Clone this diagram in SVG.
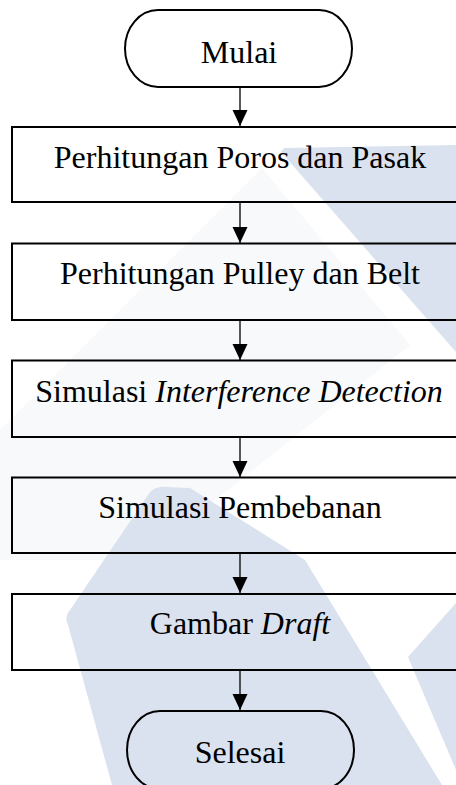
<svg xmlns="http://www.w3.org/2000/svg" width="456" height="785" viewBox="0 0 456 785">
  <style>
    .shape { fill: none; stroke: #000; stroke-width: 2; }
    .lbl { font-family: "Liberation Serif", "Times New Roman", serif; font-size: 32px; fill: #000; text-anchor: middle; }
    .it { font-style: italic; }
    .conn { stroke: #000; stroke-width: 1.3; fill: none; }
    .wm { fill: #dbe2ef; }
    .wmf { fill: #f8f9fb; }
  </style>
  <defs>
    <marker id="arrow" markerUnits="userSpaceOnUse" markerWidth="16" markerHeight="16" viewBox="0 0 16 16" refX="16" refY="8" orient="auto">
      <path d="M0,0.5 L16,8 L0,15.5 Z" fill="#000"/>
    </marker>
  </defs>
  <rect x="0" y="0" width="456" height="785" fill="#fff"/>
  <g id="watermark">
    <polygon class="wmf" points="262,168 410,345 140,560 0,560 0,430"/>
    <polygon class="wm" points="284,148 456,145 456,352 281,152"/>
    <path class="wm" d="M150,492 Q156,486 168,487 L190,488 L305,560 L442,785 L112,785 L68,625 Q64,617 70,610 Z"/>
    <polygon class="wm" points="408,657 456,603 456,770"/>
  </g>
  <g id="connectors">
    <line class="conn" x1="240" y1="87" x2="240" y2="126" marker-end="url(#arrow)"/>
    <line class="conn" x1="240" y1="202" x2="240" y2="243" marker-end="url(#arrow)"/>
    <line class="conn" x1="240" y1="320" x2="240" y2="360" marker-end="url(#arrow)"/>
    <line class="conn" x1="240" y1="437" x2="240" y2="477" marker-end="url(#arrow)"/>
    <line class="conn" x1="240" y1="553" x2="240" y2="593" marker-end="url(#arrow)"/>
    <line class="conn" x1="240" y1="670" x2="240" y2="710" marker-end="url(#arrow)"/>
  </g>
  <g id="mulai">
    <rect class="shape" x="125" y="10" width="227" height="77" rx="33" ry="38.5"/>
    <text class="lbl" x="239" y="63">Mulai</text>
  </g>
  <g id="poros">
    <rect class="shape" x="12" y="127" width="460" height="75"/>
    <text class="lbl" x="240" y="167.5">Perhitungan Poros dan Pasak</text>
  </g>
  <g id="pulley">
    <rect class="shape" x="12" y="243.5" width="460" height="76.5"/>
    <text class="lbl" x="240" y="284">Perhitungan Pulley dan Belt</text>
  </g>
  <g id="interference">
    <rect class="shape" x="12" y="360.5" width="460" height="76.5"/>
    <text class="lbl" x="239" y="401.5">Simulasi <tspan class="it">Interference Detection</tspan></text>
  </g>
  <g id="pembebanan">
    <rect class="shape" x="12" y="477.5" width="460" height="75.5"/>
    <text class="lbl" x="240" y="518">Simulasi Pembebanan</text>
  </g>
  <g id="draft">
    <rect class="shape" x="12" y="594" width="460" height="76"/>
    <text class="lbl" x="240" y="634">Gambar <tspan class="it">Draft</tspan></text>
  </g>
  <g id="selesai">
    <rect class="shape" x="127" y="711" width="227" height="78" rx="33" ry="39"/>
    <text class="lbl" x="240" y="762.5">Selesai</text>
  </g>
</svg>
